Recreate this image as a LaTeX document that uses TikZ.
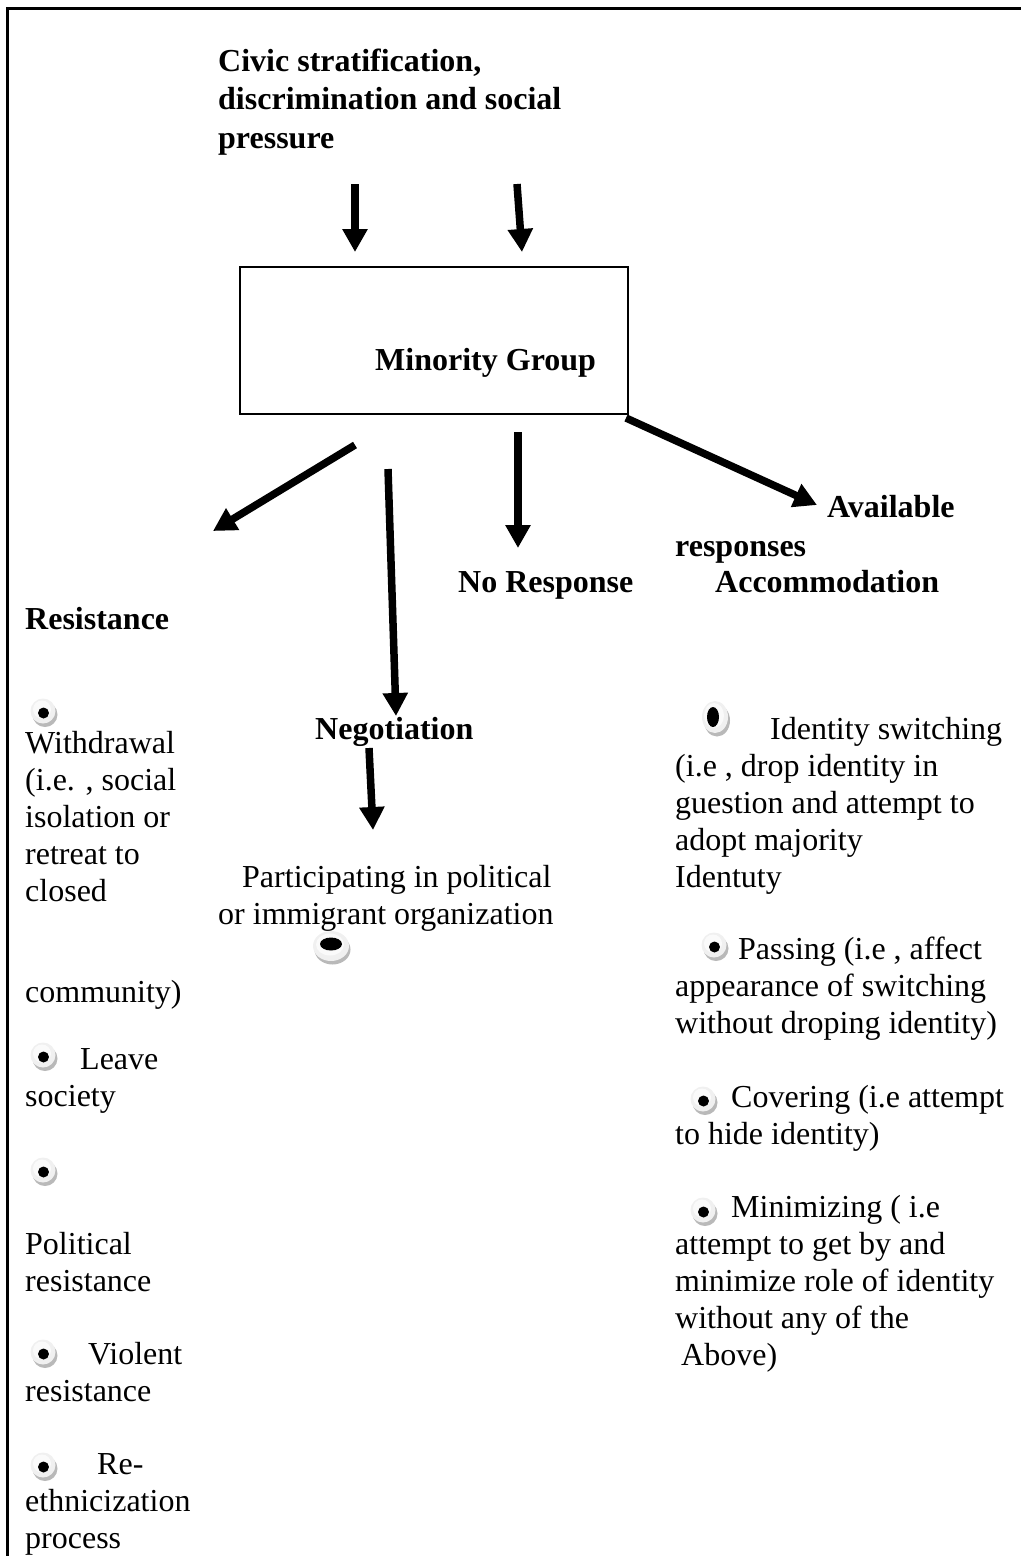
\documentclass[tikz,border=0pt]{standalone}
\usepackage{fontspec}
\setmainfont{Liberation Serif}
\usetikzlibrary{arrows.meta}

\tikzset{
  txt/.style={font=\fontsize{32}{37}\selectfont, inner sep=0pt, anchor=north west, align=left},
  boldtxt/.style={font=\fontsize{32}{38.5}\selectfont\bfseries, inner sep=0pt, anchor=north west, align=left},
  boldline/.style={font=\fontsize{32}{38.5}\selectfont\bfseries, inner sep=0pt, anchor=base west},
  bigarrow/.style={line width=7.5pt, -{Triangle[width=24pt,length=23pt]}},
  groupbox/.style={draw, line width=2pt, minimum width=388pt, minimum height=147pt, inner sep=0pt},
  frameline/.style={line width=3pt},
  % round button-like bullet: grey rim, pale face, black pip
  bul/.pic={
    \fill[gray!55] (2,3.5) circle[radius=12.5pt];
    \fill[gray!12] (0,0) circle[radius=12.5pt];
    \fill[gray!4] (-1,-1.5) circle[radius=9pt];
    \fill[black] (0.5,2) circle[radius=5.5pt];
  },
  bulwide/.pic={
    \fill[gray!55] (1.5,3.5) ellipse[x radius=18pt, y radius=15pt];
    \fill[gray!12] (0,0) ellipse[x radius=18pt, y radius=15pt];
    \fill[gray!4] (-1,-1.5) ellipse[x radius=14pt, y radius=11pt];
    \fill[black] (0,-2) ellipse[x radius=11pt, y radius=6.5pt];
  },
  bultall/.pic={
    \fill[gray!55] (2,3.5) ellipse[x radius=13pt, y radius=16pt];
    \fill[gray!12] (0,0) ellipse[x radius=13pt, y radius=16pt];
    \fill[gray!4] (-1,-1.5) ellipse[x radius=10pt, y radius=12.5pt];
    \fill[black] (-2,0) ellipse[x radius=6pt, y radius=10pt];
  }
}

\begin{document}
\begin{tikzpicture}[x=1pt, y=-1pt]
  \useasboundingbox (0,0) rectangle (1021,1556);

  % open frame: left and top edges
  \draw[frameline] (7.5,1556) -- (7.5,8) -- (1021,8);

  % pressures acting on the group
  \node[boldtxt] (civic) at (218,44) {\strut Civic stratification,\\discrimination and social\\pressure};

  % the group itself
  \node[groupbox] (mg) at (434,340.5) {};
  \node[boldline] (mglabel) at (375,370) {Minority Group};

  % response headings
  \node[boldline] (avail) at (827,517) {Available};
  \node[boldline] (resp) at (675,556) {responses};
  \node[boldline] (accom) at (715,592) {Accommodation};
  \node[boldline] (noresp) at (458,592) {No Response};
  \node[boldline] (resist) at (25,629) {Resistance};
  \node[boldline] (negot) at (315,739) {Negotiation};

  % arrow end points
  \coordinate (p1s) at (355,184);  \coordinate (p1e) at (355,252);
  \coordinate (p2s) at (517,184);  \coordinate (p2e) at (522,252);
  \coordinate (r1s) at (355,445);  \coordinate (r1e) at (213,531);
  \coordinate (r2s) at (388,469);  \coordinate (r2e) at (396,716);
  \coordinate (r3s) at (518,432);  \coordinate (r3e) at (518,548);
  \coordinate (r4s) at (626,418);  \coordinate (r4e) at (817,505);
  \coordinate (n1s) at (369,748);  \coordinate (n1e) at (373,830);

  \draw[bigarrow] (p1s) -- (p1e);
  \draw[bigarrow] (p2s) -- (p2e);
  \draw[bigarrow] (r1s) -- (r1e);
  \draw[bigarrow] (r2s) -- (r2e);
  \draw[bigarrow] (r3s) -- (r3e);
  \draw[bigarrow] (r4s) -- (r4e);
  \draw[bigarrow] (n1s) -- (n1e);

  % negotiation
  \node[txt] (partic) at (218,861) {\strut\hspace*{24pt}Participating in political\\or immigrant organization};
  \pic at (331,946) {bulwide};

  % resistance column
  \pic at (43,711) {bul};
  \node[txt] (withdraw) at (25,727) {\strut Withdrawal\\(i.e. , social\\isolation or\\retreat to\\closed\\[64pt]community)};
  \pic at (43,1055) {bul};
  \node[txt] (leave) at (25,1043) {\strut\hspace*{55pt}Leave\\society};
  \pic at (43,1170) {bul};
  \node[txt] (polit) at (25,1228) {\strut Political\\resistance};
  \pic at (43,1352) {bul};
  \node[txt] (violent) at (25,1338) {\strut\hspace*{63pt}Violent\\resistance};
  \pic at (43,1465) {bul};
  \node[txt] (reeth) at (25,1448) {\strut\hspace*{72pt}Re-\\ethnicization\\process};

  % accommodation column
  \pic at (715,717) {bultall};
  \node[txt] (switch) at (675,713) {\strut\hspace*{95pt}Identity switching\\(i.e , drop identity in\\guestion and attempt to\\adopt majority\\Identuty};
  \pic at (714,945) {bul};
  \node[txt] (passing) at (675,933) {\strut\hspace*{63pt}Passing (i.e , affect\\appearance of switching\\without droping identity)};
  \pic at (703,1099) {bul};
  \node[txt] (cover) at (675,1081) {\strut\hspace*{56pt}Covering (i.e attempt\\to hide identity)};
  \pic at (703,1210) {bul};
  \node[txt] (minim) at (675,1191) {\strut\hspace*{56pt}Minimizing ( i.e\\attempt to get by and\\minimize role of identity\\without any of the\\\hspace*{6pt}Above)};
\end{tikzpicture}
\end{document}
